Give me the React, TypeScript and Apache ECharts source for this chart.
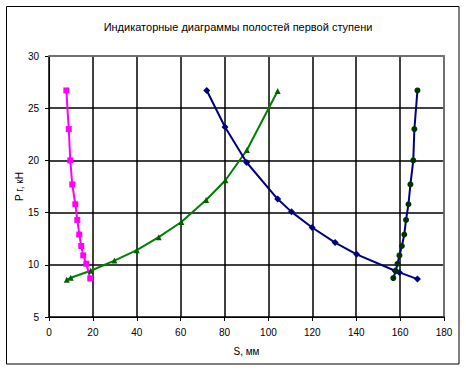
import React, { useEffect, useRef } from "react";
import * as echarts from "echarts";

const titleText = "Индикаторные диаграммы полостей первой ступени";
const xName = "S, мм";
const yName = "P г, кН";

const magentaS = [7.9, 9.0, 9.7, 10.6, 12.0, 12.9, 13.8, 14.7, 15.6, 17.0, 18.8];
const magentaP = [26.7, 23.0, 20.0, 17.7, 15.8, 14.3, 12.9, 11.8, 10.9, 10.1, 8.7];

const greenS = [8.1, 9.9, 19.0, 29.8, 40.0, 50.0, 60.3, 71.6, 80.4, 90.2, 104.2];
const greenP = [8.56, 8.76, 9.43, 10.4, 11.4, 12.65, 14.1, 16.2, 18.1, 21.0, 26.65];

const blueS = [71.9, 80.2, 90.1, 104.2, 110.5, 119.9, 130.4, 140.2, 157.7, 159.7, 167.9];
const blueP = [26.7, 23.2, 19.8, 16.3, 15.07, 13.57, 12.13, 11.0, 9.43, 9.27, 8.63];

const circleS = [167.9, 166.5, 166.0, 164.7, 163.8, 162.7, 161.9, 160.8, 159.7, 158.8, 158.0, 156.9];
const circleP = [26.7, 23.0, 20.0, 17.7, 15.8, 14.3, 12.9, 11.8, 10.9, 10.1, 9.4, 8.73];

const pairs = (xs: number[], ys: number[]) => xs.map((x, i) => [x, ys[i]]);

const FONT = "Liberation Sans, Arial, sans-serif";

export default function App() {
  const ref = useRef<HTMLDivElement>(null);
  useEffect(() => {
    const chart = echarts.init(ref.current!, undefined, { renderer: "svg" });
    chart.setOption({
      animation: false,
      backgroundColor: "#ffffff",
      title: {
        text: titleText,
        left: 233,
        textAlign: "center",
        top: 16,
        textStyle: { fontSize: 11, fontWeight: "normal", color: "#000", fontFamily: FONT },
      },
      graphic: [
        {
          type: "rect",
          shape: { x: 6.5, y: 6.5, width: 452.5, height: 357.5 },
          style: { fill: "none", stroke: "#000", lineWidth: 1 },
          z: 100,
        },
        {
          type: "line",
          shape: { x1: 48, y1: 56, x2: 445, y2: 56 },
          style: { stroke: "#808080", lineWidth: 1.5 },
          z: 50,
        },
        {
          type: "line",
          shape: { x1: 444, y1: 55, x2: 444, y2: 316.5 },
          style: { stroke: "#808080", lineWidth: 1.5 },
          z: 50,
        },
      ],
      grid: { left: 49, right: 22, top: 56, bottom: 54 },
      xAxis: {
        type: "value",
        min: 0,
        max: 180,
        interval: 20,
        name: xName,
        nameLocation: "middle",
        nameGap: 29,
        nameMoveOverlap: false,
        nameTextStyle: { fontSize: 10, color: "#000", fontFamily: FONT },
        axisLine: { show: true, onZero: false, lineStyle: { color: "#000", width: 1 } },
        axisTick: { show: true, length: 4, lineStyle: { color: "#000" } },
        axisLabel: { fontSize: 10, color: "#000", margin: 10, fontFamily: FONT },
        splitLine: { show: true, lineStyle: { color: "#000", width: 1.5 } },
      },
      yAxis: {
        type: "value",
        min: 5,
        max: 30,
        interval: 5,
        name: yName,
        nameLocation: "middle",
        nameGap: 25,
        nameMoveOverlap: false,
        nameRotate: 90,
        nameTextStyle: { fontSize: 10, color: "#000", fontFamily: FONT },
        axisLine: { show: true, onZero: false, lineStyle: { color: "#000", width: 1 } },
        axisTick: { show: true, length: 4, lineStyle: { color: "#000" } },
        axisLabel: { fontSize: 10, color: "#000", margin: 10, fontFamily: FONT },
        splitLine: { show: true, lineStyle: { color: "#000", width: 1.5 } },
      },
      series: [
        {
          type: "line",
          data: pairs(greenS, greenP),
          lineStyle: { color: "#008000", width: 2 },
          itemStyle: { color: "#006000" },
          symbol: "triangle",
          symbolSize: 6,
        },
        {
          type: "line",
          data: pairs(magentaS, magentaP),
          lineStyle: { color: "#FF00FF", width: 2 },
          itemStyle: { color: "#FF00FF" },
          symbol: "rect",
          symbolSize: 6,
        },
        {
          type: "line",
          data: pairs(blueS, blueP),
          lineStyle: { color: "#000080", width: 2 },
          itemStyle: { color: "#000080" },
          symbol: "diamond",
          symbolSize: 7,
        },
        {
          type: "line",
          data: pairs(circleS, circleP),
          lineStyle: { color: "#000080", width: 2 },
          itemStyle: { color: "#003300" },
          symbol: "circle",
          symbolSize: 6,
        },
      ],
    });
    return () => chart.dispose();
  }, []);
  return (
    <div
      ref={ref}
      style={{ position: "absolute", left: 0, top: 0, width: 466, height: 371 }}
    />
  );
}
